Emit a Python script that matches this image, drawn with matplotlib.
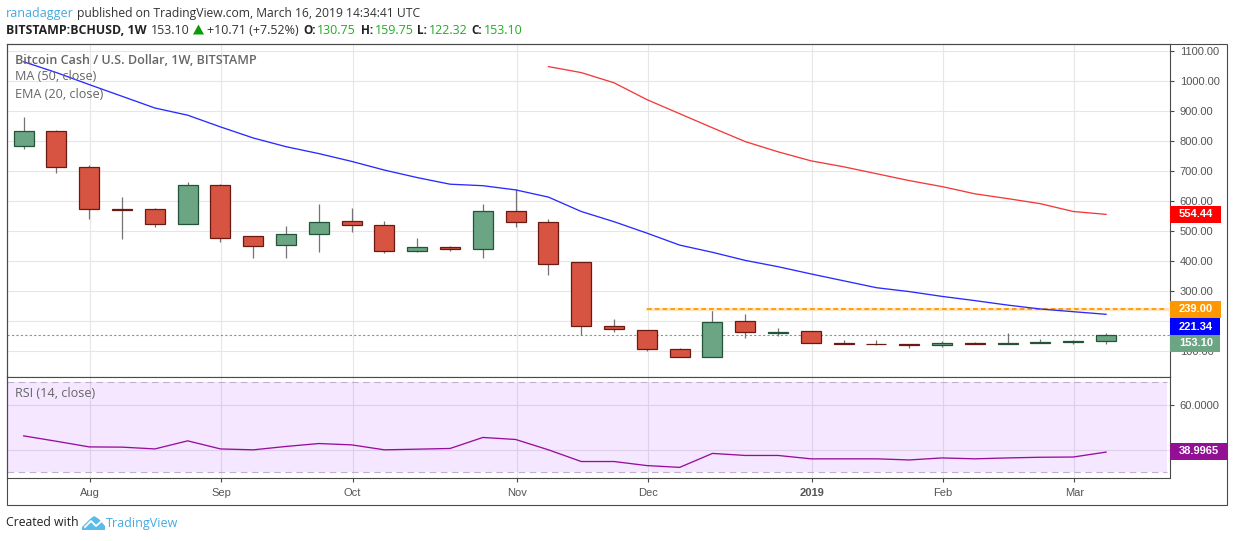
import matplotlib
matplotlib.use('Agg')
import matplotlib.pyplot as plt
from matplotlib.patches import Rectangle, Polygon

W, H = 1234, 541

# weekly candles, values
opens = [784, 832, 712, 572, 572, 521, 653, 483, 453, 490, 532, 518, 432, 446, 439, 566, 529, 396,
         182, 169, 106, 79, 199, 160, 166, 127, 123, 122, 118, 126, 121, 127, 128, 130.75]
highs = [880, 837, 720, 613, 577, 663, 657, 483, 517, 590, 577, 533, 476, 450, 590, 639, 539, 396,
         207, 169, 110, 239, 223, 176, 166, 137, 137, 122, 132, 130, 159, 139, 137, 159.75]
lows = [774, 691, 538, 473, 511, 521, 463, 410, 410, 430, 497, 427, 428, 434, 408, 514, 354, 153,
        164, 98, 79, 79, 144, 148, 126, 121, 118, 108, 114, 121, 121, 127, 124, 122.32]
closes = [832, 711, 571, 568, 521, 653, 477, 450, 490, 530, 518, 433, 446, 439, 566, 529, 389, 182,
          172, 106, 79, 196, 162, 164, 126, 121, 121, 118, 126, 121, 126, 130, 133, 153.10]

ma50 = [1063, 1027, 987, 948, 909, 885, 846, 809, 780, 757, 731, 702, 677, 655, 650, 636, 612, 564,
        530, 492, 452, 428, 401, 380, 356, 333, 310, 297, 281, 267, 252, 239, 230, 221.34]
ema20 = [1047, 1027, 993, 937, 890, 843, 797, 763, 733, 713, 690, 667, 647, 623, 607, 590, 564, 554.44]
ema_start = 16

rsi = [46.2, 43.8, 41.3, 41.2, 40.4, 44.0, 40.4, 40.0, 41.5, 42.8, 42.2, 40.0, 40.3, 40.6, 45.5, 44.6,
       40.0, 34.8, 34.8, 33.0, 32.2, 38.4, 37.5, 37.5, 36.0, 36.0, 36.0, 35.5, 36.4, 36.0, 36.4, 36.7,
       36.8, 38.9965]

price_ticks = [100, 200, 300, 400, 500, 600, 700, 800, 900, 1000, 1100]
month_pos = [2.03, 6.03, 10.03, 15.03, 19.03, 24.03, 28.03, 32.03]
month_labels = ['Aug', 'Sep', 'Oct', 'Nov', 'Dec', '2019', 'Feb', 'Mar']

resistance = 239.0
resistance_start = 19
last_price = 153.10

RED, RED_EDGE = '#d75442', '#6b1a12'
GREEN, GREEN_EDGE = '#6ba583', '#225437'
GRID = '#e6e6e6'
FRAME = '#4a4a4a'
TEXT = '#555555'
BLUE_LINK = '#45a9e0'


def box(left, top, right, bottom):
    return [left / W, 1 - bottom / H, (right - left) / W, (bottom - top) / H]


def put(x, y, s, **kw):
    kw.setdefault('va', 'center')
    kw.setdefault('family', 'Open Sans')
    fig.text(x / W, 1 - y / H, s, **kw)


def tag(left, right, y, color, s, zorder=10):
    fig.add_artist(Rectangle((left / W, 1 - (y + 8.5) / H), (right - left) / W, 17 / H,
                             transform=fig.transFigure, color=color, lw=0, zorder=zorder))
    fig.text(1179 / W, 1 - y / H, s, color='white', fontsize=8, fontweight='bold', va='center',
             family='Liberation Sans', zorder=zorder + 1)


fig = plt.figure(figsize=(W / 100, H / 100), dpi=100, facecolor='white')

# price pane
ax = fig.add_axes(box(6.5, 43.5, 1170, 376.5))
x = list(range(len(closes)))
ax.set_xlim(-0.524, 34.95)
ax.set_ylim(14, 1124)
ax.grid(True, color=GRID, lw=0.8)
ax.set_axisbelow(True)

ax.axhline(last_price, color=GREEN, lw=0.8, ls=(0, (2, 2)), zorder=1.5)
ax.vlines(x, lows, highs, color='#737375', lw=0.9, zorder=2)
for i in x:
    up = closes[i] >= opens[i]
    ax.bar(i, closes[i] - opens[i], bottom=opens[i], width=0.61, color=GREEN if up else RED,
           edgecolor=GREEN_EDGE if up else RED_EDGE, lw=0.9, zorder=3)

ax.plot([resistance_start, 34.85], [resistance, resistance], color='#ffe6c2', lw=2.4, zorder=3.5)
ax.plot([resistance_start, 34.85], [resistance, resistance], color='#ff9800', lw=1.3,
        ls=(0, (2.6, 1.7)), zorder=3.6)
ax.plot(x, ma50, color='#2a2aff', lw=0.95, zorder=4)
ax.plot(x[ema_start:], ema20, color='#f23a3a', lw=0.95, zorder=4)

ax.set_xticks(month_pos)
ax.tick_params(axis='x', length=0, labelbottom=False)
ax.yaxis.tick_right()
ax.set_yticks(price_ticks)
# 200.00 sits fully behind the value tags
ax.set_yticklabels(['' if p == 200 else '%.2f' % p for p in price_ticks],
                   family='Liberation Sans', fontsize=8, color=TEXT)
ax.tick_params(axis='y', length=3, width=0.8, color=FRAME, pad=4)
for s in ax.spines.values():
    s.set_color(FRAME)
    s.set_linewidth(0.8)

# rsi pane
ax2 = fig.add_axes(box(6.5, 376.5, 1170, 477.5))
ax2.set_xlim(ax.get_xlim())
ax2.set_ylim(27.7, 72.6)
ax2.set_xticks(month_pos)
ax2.set_xticklabels(month_labels, family='Liberation Sans', fontsize=8, color=TEXT)
ax2.get_xticklabels()[5].set_fontweight('bold')
ax2.tick_params(axis='x', length=3, width=0.8, color=FRAME, pad=4.5)
ax2.yaxis.tick_right()
ax2.set_yticks([40, 60])
ax2.set_yticklabels(['', '60.0000'], family='Liberation Sans', fontsize=8, color=TEXT)
ax2.tick_params(axis='y', length=3, width=0.8, color=FRAME, pad=4)
ax2.grid(True, color=GRID, lw=0.8)
ax2.set_axisbelow(True)
ax2.fill_between([-0.524, 34.85], 30, 70, color='#9915ff', alpha=0.1, lw=0, zorder=1)
for lev in (30, 70):
    ax2.plot([-0.524, 34.85], [lev, lev], color='#c0b0cc', lw=0.8, ls=(0, (6, 4)), zorder=2)
ax2.plot(x, rsi, color='#980e9c', lw=0.95, zorder=3)
for s in ax2.spines.values():
    s.set_color(FRAME)
    s.set_linewidth(0.8)

# outer frame incl. the date strip and the scale column
fig.add_artist(Rectangle((6.5 / W, 1 - 504.5 / H), 1220.5 / W, 461 / H, transform=fig.transFigure,
                         fill=False, edgecolor=FRAME, lw=0.8))

# last value tags on the scale
tag(1170, 1221, 214, '#ff0000', '554.44')
tag(1170, 1221, 309.5, '#ff9800', '239.00')
tag(1170, 1220, 326.5, '#0000ff', '221.34')
tag(1170, 1220, 343, GREEN, '153.10')
tag(1170, 1227, 451.5, '#930f94', '38.9965')

# pane legends
put(15, 60.5, 'Bitcoin Cash / U.S. Dollar, 1W, BITSTAMP', color='#666666', fontsize=9.05, fontweight='semibold')
put(15, 77, 'MA (50, close)', color='#666666', fontsize=9.05)
put(15, 94.5, 'EMA (20, close)', color='#666666', fontsize=9.05)
put(15, 393.3, 'RSI (14, close)', color='#666666', fontsize=9.05)

# header
put(6, 13, 'ranadagger', color=BLUE_LINK, fontsize=9)
put(77, 13, 'published on TradingView.com, March 16, 2019 14:34:41 UTC', color='#333333', fontsize=8.75)
put(6, 30, 'BITSTAMP:BCHUSD, 1W', color='#222222', fontsize=8.9, fontweight='bold')
put(151, 30, '153.10', color='#333333', fontsize=9)
fig.add_artist(Polygon([(193 / W, 1 - 34.5 / H), (204 / W, 1 - 34.5 / H), (198.5 / W, 1 - 24.5 / H)],
                       transform=fig.transFigure, color='#0a9a0a', lw=0))
put(207, 30, '+10.71 (+7.52%)', color='#333333', fontsize=9)
pieces = [(303, 'O:', '130.75', 317), (360.5, 'H:', '159.75', 374.5), (417, 'L:', '122.32', 429), (471, 'C:', '153.10', 483.5)]
for lx, lab, val, vx in pieces:
    put(lx, 30, lab, color='#222222', fontsize=8.5, fontweight='bold')
    put(vx, 30, val, color='#22ac22', fontsize=9)

# footer with logo
put(6, 523, 'Created with', color='#222222', fontsize=8.8)
logo = [(82, 530), (82, 527), (90, 519), (94, 516), (99, 519), (105, 526), (105, 530)]
fig.add_artist(Polygon([(a / W, 1 - b / H) for a, b in logo], transform=fig.transFigure,
                       color='#5cbce8', lw=0))
fig.add_artist(plt.Line2D([85 / W, 91 / W, 96 / W, 103 / W],
                          [1 - 527 / H, 1 - 521 / H, 1 - 526 / H, 1 - 520 / H],
                          transform=fig.transFigure, color='white', lw=1.3))
put(106, 523, 'TradingView', color=BLUE_LINK, fontsize=9)

fig.savefig('out.png', dpi=100)
